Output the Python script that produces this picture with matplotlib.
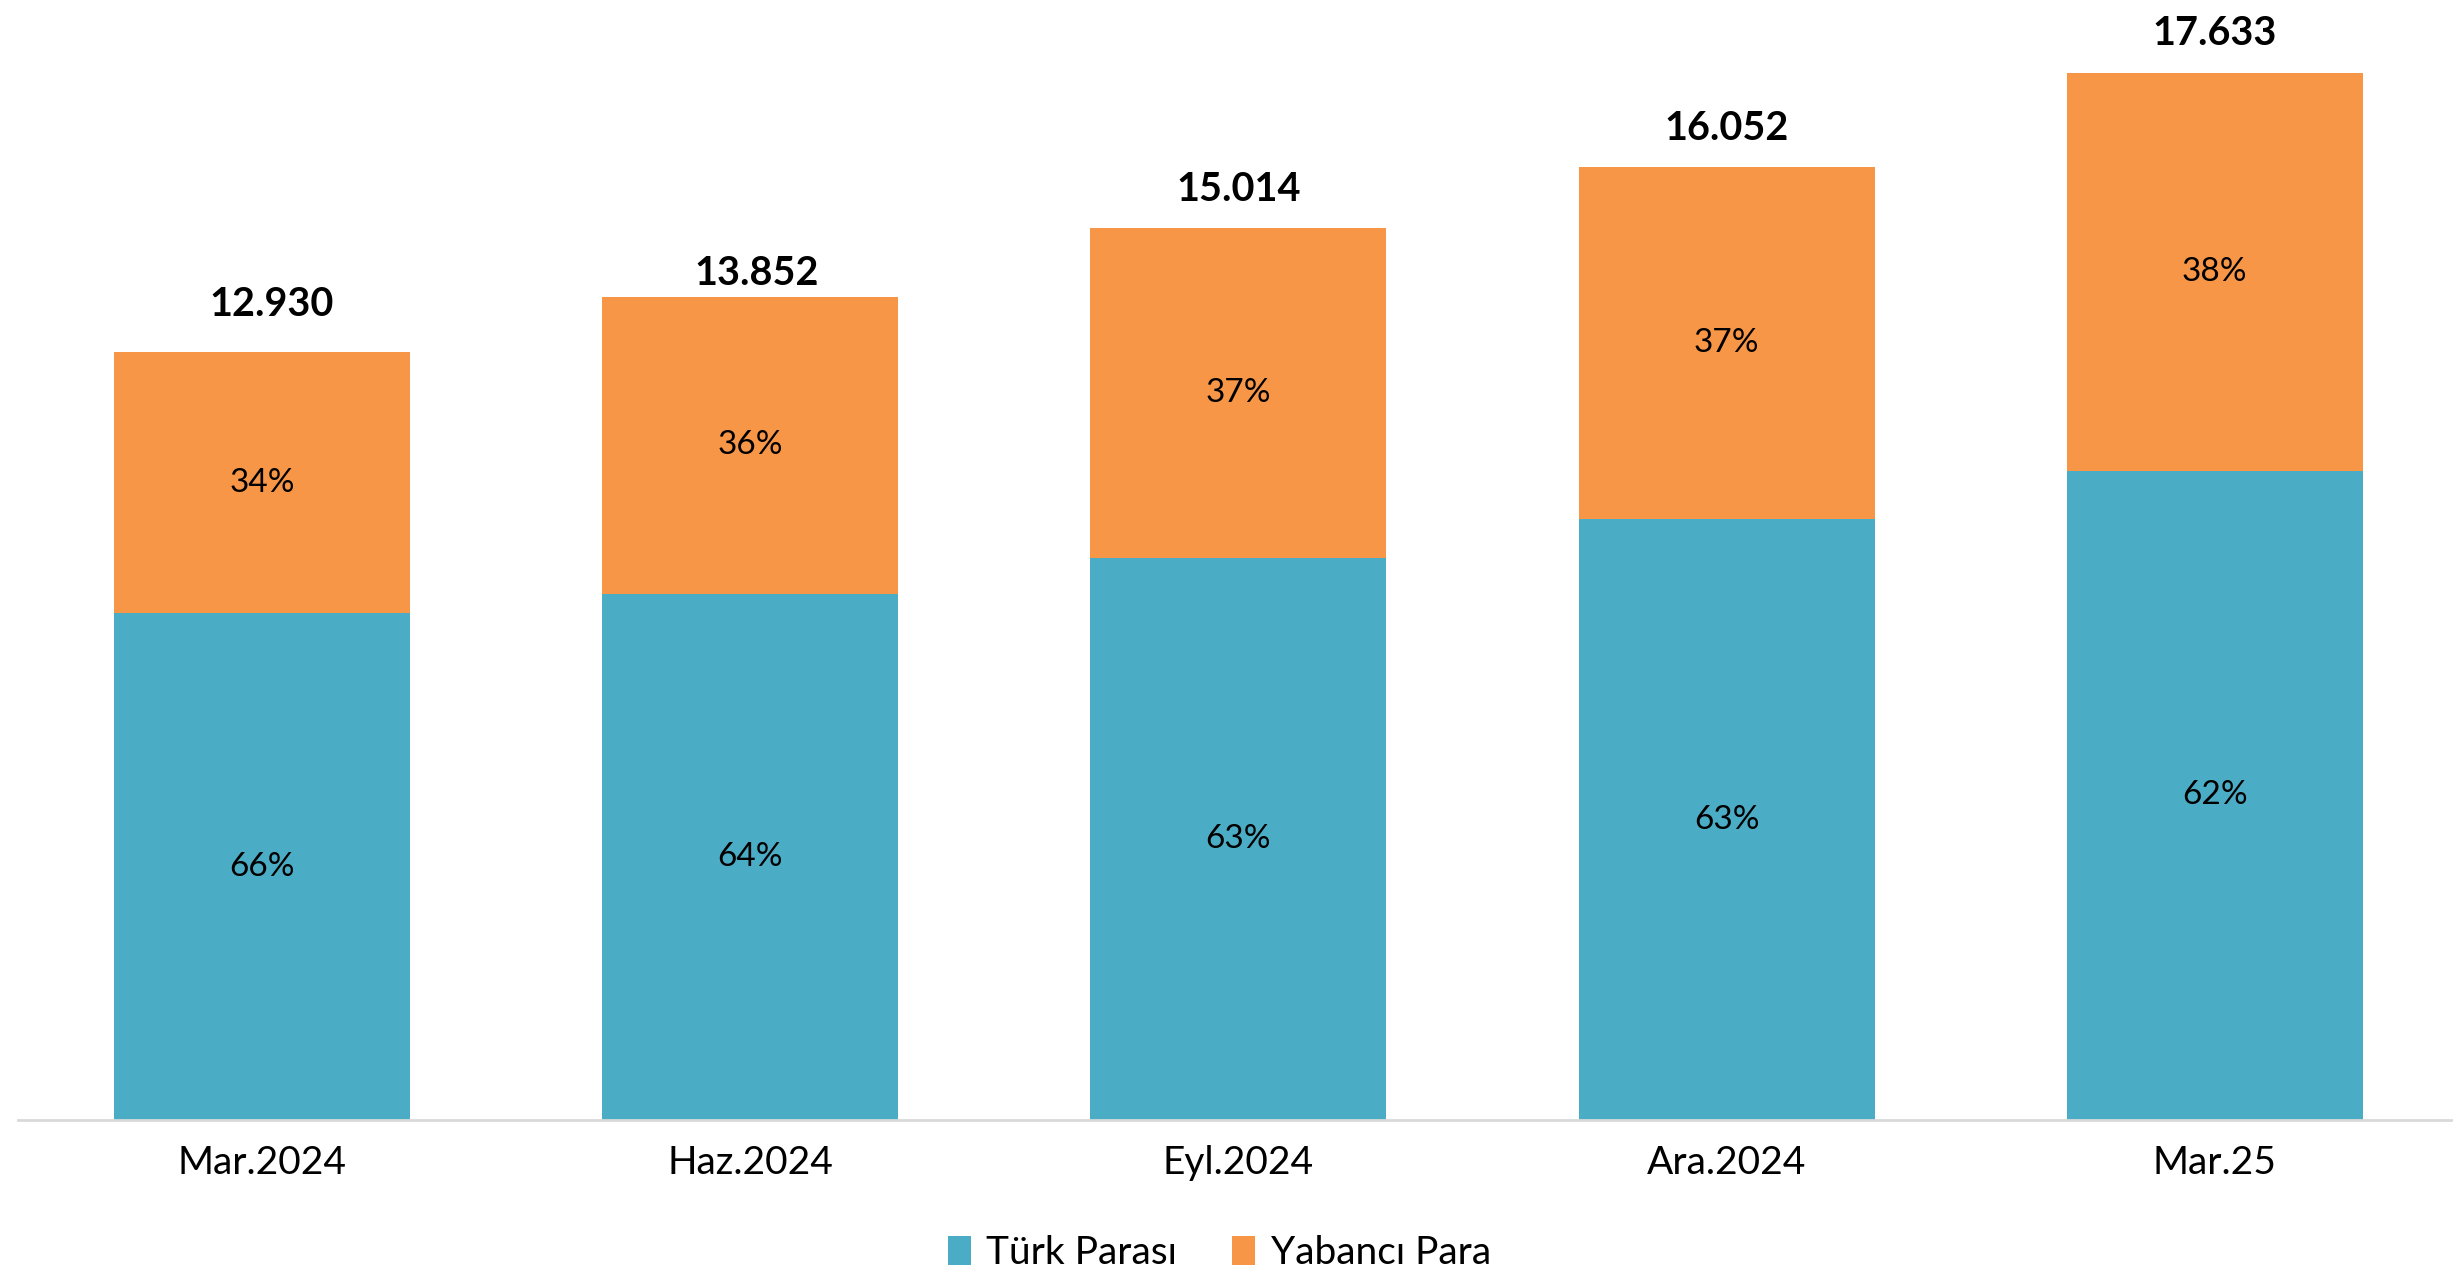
import matplotlib
matplotlib.use("Agg")
import matplotlib.pyplot as plt
import numpy as np

categories = ["Mar.2024", "Haz.2024", "Eyl.2024", "Ara.2024", "Mar.25"]
totals = [12930, 13852, 15014, 16052, 17633]
total_labels = ["12.930", "13.852", "15.014", "16.052", "17.633"]
tp_share = [66, 64, 63, 63, 62]
yp_share = [34, 36, 37, 37, 38]
series_names = ["Türk Parası", "Yabancı Para"]

TEAL = "#4BACC6"
ORANGE = "#F79646"

plt.rcParams["font.family"] = ["Lato", "DejaVu Sans"]

fig = plt.figure(figsize=(24.53, 12.88), dpi=100)
ax = fig.add_axes([0.0073, 0.1304, 0.9951, 0.8696])

x = np.arange(len(categories))
tot = np.array(totals, dtype=float)
tp = tot * np.array(tp_share) / 100.0
yp = tot * np.array(yp_share) / 100.0
w = 0.606

b1 = ax.bar(x, tp, width=w, color=TEAL, label=series_names[0], zorder=2)
b2 = ax.bar(x, yp, width=w, bottom=tp, color=ORANGE, label=series_names[1], zorder=2)

# manual label placement offsets (points), as in the original layout
label_dx = [7, 5, 0, 0, 0]
label_dy = [21, 4, 14.5, 14, 15]

for i in range(len(x)):
    ax.text(x[i], tp[i] / 2, f"{tp_share[i]}%", ha="center", va="center",
            fontsize=24, color="black")
    ax.text(x[i], tp[i] + yp[i] / 2, f"{yp_share[i]}%", ha="center", va="center",
            fontsize=24, color="black")
    ax.annotate(total_labels[i], (x[i], tp[i] + yp[i]),
                xytext=(label_dx[i], label_dy[i]),
                textcoords="offset points", ha="center", va="bottom",
                fontsize=28.5, fontweight="bold", color="black")

ax.set_xlim(-0.5, 4.5)
ax.set_ylim(0, 18860)
ax.set_yticks([])
for s in ["top", "right", "left"]:
    ax.spines[s].set_visible(False)
ax.spines["bottom"].set_color("#D9D9D9")
ax.spines["bottom"].set_linewidth(2)
ax.set_xticks(x)
ax.set_xticklabels(categories, fontsize=28)
ax.tick_params(axis="x", length=0, pad=18)

fig.legend(handles=[b1, b2], labels=series_names, loc="center",
           bbox_to_anchor=(0.497, 0.027), ncol=2, frameon=False, fontsize=28,
           handlelength=0.6, handleheight=0.75, handletextpad=0.4, columnspacing=1.4)

fig.savefig("out.png", dpi=100)
